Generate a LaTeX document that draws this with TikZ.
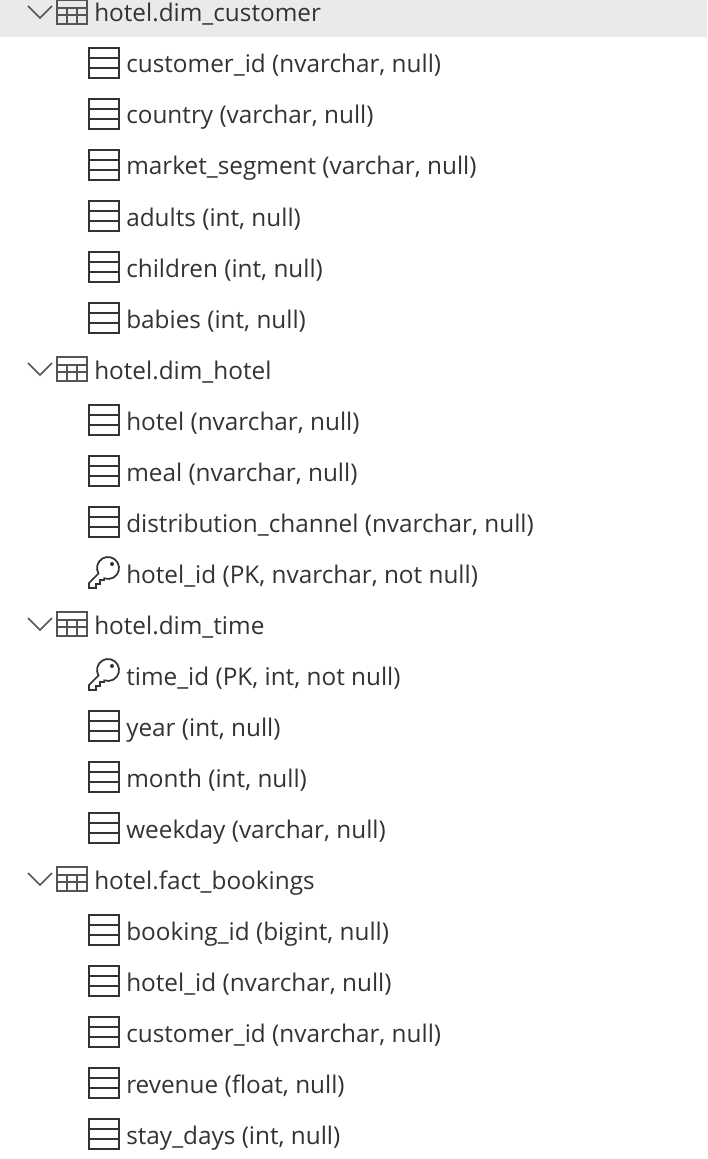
\documentclass[tikz,border=0pt]{standalone}
\usepackage{fontspec}
\setmainfont{Open Sans}
\definecolor{bandgrey}{HTML}{EBEAE9}
\definecolor{inkgrey}{HTML}{333333}
\definecolor{tablegrey}{HTML}{555555}
\tikzset{
    x=0.75pt, y=-0.75pt,
    rowlabel/.style={anchor=base west, inner sep=0pt, text=inkgrey, font=\fontsize{18.25}{20}\selectfont},
    fieldicon/.pic={
        \draw[inkgrey, line width=1.5pt] (-15,-15) rectangle (15,15);
        \draw[inkgrey, line width=1.5pt] (-15,-5) -- (15,-5) (-15,5) -- (15,5);
    },
    keyicon/.pic={
        \draw[inkgrey, line width=1.3pt, line join=miter] (-5.5,0.5) arc[start angle=150, end angle=470, radius=11] -- (0,7) -- (-4,7) -- (-4,11) -- (-8,11) -- (-8,15) -- (-15,15) -- (-15,10) -- cycle;
        \fill[inkgrey] (8,-9) circle (2);
    },
    tableicon/.pic={
        \draw[tablegrey, line width=1.3pt] (-15,-12) rectangle (15,12);
        \draw[tablegrey, line width=1.3pt] (-15,-4) -- (15,-4) (-15,3) -- (15,3) (-5,-4) -- (-5,12) (5,-4) -- (5,12);
    },
    chevron/.pic={
        \draw[tablegrey, line width=1.1pt] (-12,-6) -- (0,6) -- (12,-6);
    }
}
\begin{document}
\begin{tikzpicture}
    \path[use as bounding box] (0,0) rectangle (707,1159);
    \clip (0,0) rectangle (707,1159);
    \fill[bandgrey] (0,0) rectangle (707,37);

    \foreach \name/\row/\txt in {
        tcustomer/13/hotel.dim\_customer, thotel/370/hotel.dim\_hotel,
        ttime/625/hotel.dim\_time, tfact/880/hotel.fact\_bookings}{
        \pic at (40,\row-1) {chevron};
        \pic at (72,\row-1) {tableicon};
        \node[rowlabel] (\name) at (94,\row+9) {\txt};
    }

    \foreach \name/\row/\txt in {
        f1/64/{customer\_id (nvarchar, null)},
        f2/115/{country (varchar, null)},
        f3/166/{market\_segment (varchar, null)},
        f4/217/{adults (int, null)},
        f5/268/{children (int, null)},
        f6/319/{babies (int, null)},
        f7/421/{hotel (nvarchar, null)},
        f8/472/{meal (nvarchar, null)},
        f9/523/{distribution\_channel (nvarchar, null)},
        f10/727/{year (int, null)},
        f11/778/{month (int, null)},
        f12/829/{weekday (varchar, null)},
        f13/931/{booking\_id (bigint, null)},
        f14/982/{hotel\_id (nvarchar, null)},
        f15/1033/{customer\_id (nvarchar, null)},
        f16/1084/{revenue (float, null)},
        f17/1135/{stay\_days (int, null)}}{
        \pic at (104,\row-1) {fieldicon};
        \node[rowlabel] (\name) at (126,\row+9) {\txt};
    }

    \pic at (104,573) {keyicon};
    \node[rowlabel] (k1) at (126,583) {hotel\_id (PK, nvarchar, not null)};
    \pic at (104,675) {keyicon};
    \node[rowlabel] (k2) at (126,685) {time\_id (PK, int, not null)};
\end{tikzpicture}
\end{document}
